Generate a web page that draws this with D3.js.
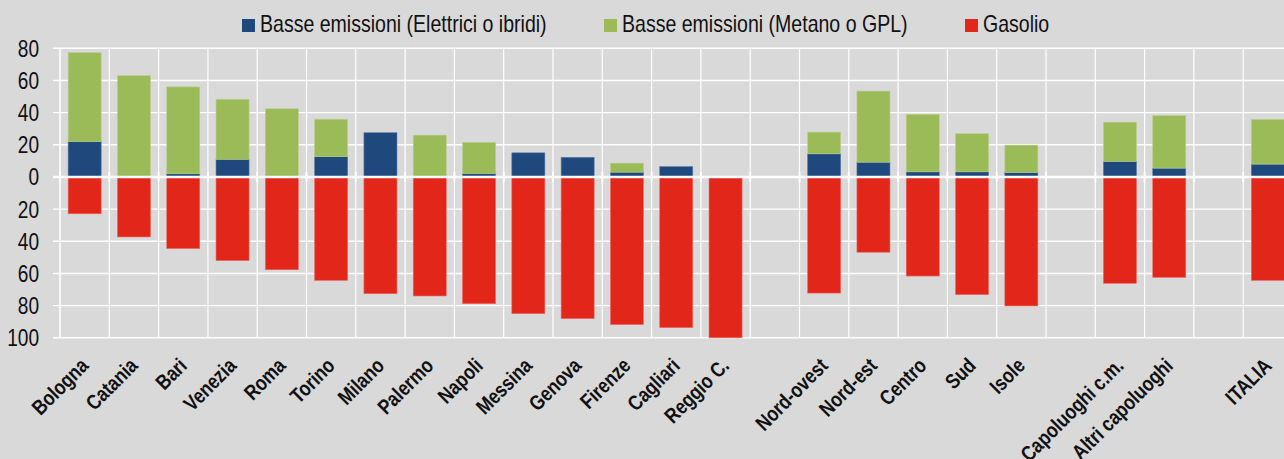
<!DOCTYPE html>
<html>
<head>
<meta charset="utf-8">
<script src="https://cdn.jsdelivr.net/npm/d3@7"></script>
<style>
  html, body { margin: 0; padding: 0; background: #d9d9d9; }
  svg { display: block; }
  text { font-family: 'Liberation Sans', Arial, sans-serif; fill: #111; }
</style>
</head>
<body>
<svg id="chart" width="1284" height="459"></svg>
<script>
// Categories along the x axis; empty strings are spacer slots between groups
const categories = [
  "Bologna", "Catania", "Bari", "Venezia", "Roma", "Torino", "Milano", "Palermo",
  "Napoli", "Messina", "Genova", "Firenze", "Cagliari", "Reggio C.", "",
  "Nord-ovest", "Nord-est", "Centro", "Sud", "Isole", "",
  "Capoluoghi c.m.", "Altri capoluoghi", "", "ITALIA"
];

// Shares (%) by fuel type
const elettriciIbridi = [
  22, 0, 2, 11, 0, 12.6, 27.5, 0,
  2.2, 15, 12.2, 3, 6.4, 0, null,
  14.4, 9.2, 3.2, 3.2, 2.8, null,
  9.7, 5.5, null, 8
];
const metanoGpl = [
  55.3, 63, 54, 37.3, 42.4, 23.3, 0, 26,
  19.3, 0, 0, 5.6, 0, 0, null,
  13.5, 44.2, 35.7, 23.7, 17, null,
  24.4, 32.6, null, 27.8
];
const gasolio = [
  22.9, 37.3, 44.5, 52, 57.7, 64.3, 72.6, 74,
  78.8, 85, 88.1, 91.8, 93.7, 100, null,
  72.2, 46.8, 61.6, 73.2, 80.2, null,
  66.1, 62.4, null, 64.3
];

const yTicks = [80, 60, 40, 20, 0, -20, -40, -60, -80, -100];

const seriesNames = [
  "Basse emissioni (Elettrici o ibridi)",
  "Basse emissioni (Metano o GPL)",
  "Gasolio"
];
const colors = ["#1f497d", "#9bbb59", "#e3261a"];

// Horizontal squeeze giving the condensed lettering
const narrow = 0.83;

const svg = d3.select("#chart");

const left = 60, step = 49.3;
const x = d3.scaleBand()
  .domain(d3.range(categories.length))
  .range([left, left + step * categories.length])
  .paddingInner(0.33)
  .paddingOuter(0.165);

const y = d3.scaleLinear().domain([-100, 80]).range([337.8, 48.3]);

const plotRight = left + step * categories.length;

// Horizontal gridlines with small left ticks
const grid = svg.append("g");
grid.selectAll("line.h").data(yTicks).join("line")
  .attr("x1", left - 7).attr("x2", plotRight)
  .attr("y1", d => y(d)).attr("y2", d => y(d))
  .attr("stroke", "#ffffff").attr("stroke-width", d => d === 0 ? 0 : 1.4);

// Vertical gridlines at category boundaries
const bounds = d3.range(categories.length + 1).map(i => left + i * x.step());
grid.selectAll("line.v").data(bounds).join("line")
  .attr("x1", d => d).attr("x2", d => d)
  .attr("y1", y(80)).attr("y2", y(-100))
  .attr("stroke", "#ffffff").attr("stroke-width", (d, i) => i === 0 ? 1.6 : 1.2);

// Y tick labels (absolute values above and below zero)
svg.append("g").selectAll("text").data(yTicks).join("text")
  .attr("transform", d => `translate(39,${y(d) + 8.5}) scale(${narrow},1)`)
  .attr("text-anchor", "end")
  .attr("font-size", 23)
  .text(d => Math.abs(d));

// Stacked bars
const bars = svg.append("g");
categories.forEach((c, i) => {
  if (c === "") return;
  const bx = x(i), bw = x.bandwidth();
  const e = elettriciIbridi[i], m = metanoGpl[i], g = gasolio[i];
  if (e > 0) bars.append("rect").attr("x", bx).attr("width", bw)
    .attr("y", y(e)).attr("height", y(0) - y(e))
    .attr("fill", colors[0]).attr("stroke", "#5a7aa3").attr("stroke-width", 0.6);
  if (m > 0) bars.append("rect").attr("x", bx).attr("width", bw)
    .attr("y", y(e + m)).attr("height", y(e) - y(e + m))
    .attr("fill", colors[1]).attr("stroke", "#b9cf8c").attr("stroke-width", 0.6);
  if (g > 0) bars.append("rect").attr("x", bx).attr("width", bw)
    .attr("y", y(0)).attr("height", y(-g) - y(0))
    .attr("fill", colors[2]).attr("stroke", "#ec6a62").attr("stroke-width", 0.6);
});

// Zero line with boundary ticks
svg.append("line")
  .attr("x1", left - 7).attr("x2", plotRight)
  .attr("y1", y(0)).attr("y2", y(0))
  .attr("stroke", "#ffffff").attr("stroke-width", 2.6);
svg.append("g").selectAll("line").data(bounds).join("line")
  .attr("x1", d => d).attr("x2", d => d)
  .attr("y1", y(0) - 5).attr("y2", y(0) + 5)
  .attr("stroke", "#ffffff").attr("stroke-width", 2);

// Category labels, rotated
svg.append("g").selectAll("text").data(categories).join("text")
  .attr("transform", (d, i) =>
    `translate(${x(i) + x.bandwidth() / 2 + 5},367) rotate(-45) scale(${narrow},1)`)
  .attr("text-anchor", "end")
  .attr("font-size", 21)
  .attr("font-weight", "bold")
  .text(d => d);

// Legend
const legendX = [242, 604, 965];
const legend = svg.append("g");
seriesNames.forEach((name, i) => {
  legend.append("rect").attr("x", legendX[i]).attr("y", 19).attr("width", 13).attr("height", 13)
    .attr("fill", colors[i]);
  legend.append("text")
    .attr("transform", `translate(${legendX[i] + 18},32.3) scale(0.85,1)`)
    .attr("font-size", 23).text(name);
});
</script>
</body>
</html>
